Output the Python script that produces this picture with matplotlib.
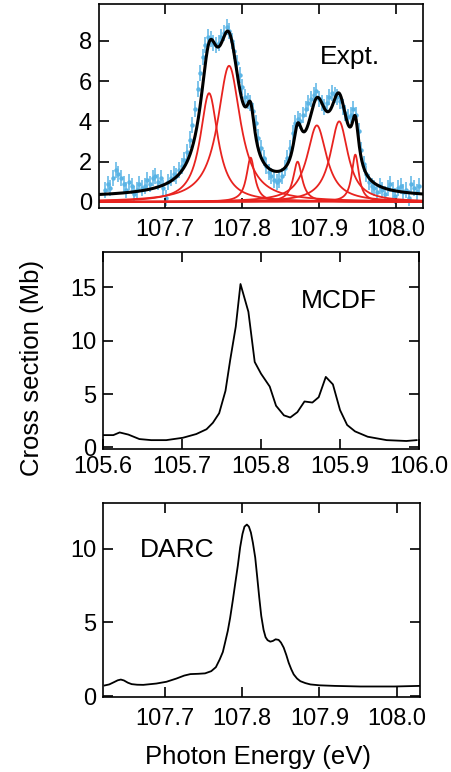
import numpy as np
import matplotlib
matplotlib.use("Agg")
import matplotlib.pyplot as plt

plt.rcParams['font.family'] = ['Liberation Sans', 'DejaVu Sans']

# --- Expt. panel: measured points (photon energy scan) ---
expt_e = np.linspace(107.622, 108.030, 120)
expt_y = [0.6, 0.9, 0.7, 1.2, 1.6, 1.4, 1.2, 0.9, 0.6, 1.0,
          0.8, 0.4, 0.6, 0.9, 0.7, 0.8, 1.1, 0.9, 1.2, 1.3,
          1.0, 1.2, 0.7, 0.2, 1.0, 1.2, 1.4, 1.3, 1.6, 1.8,
          2.1, 2.5, 3.1, 3.8, 4.6, 5.6, 6.4, 7.2, 7.8, 8.2,
          8.1, 7.9, 7.8, 7.9, 8.2, 8.4, 8.7, 8.5, 8.0, 7.5,
          6.9, 6.3, 5.7, 5.2, 5.0, 4.9, 4.5, 3.9, 3.2, 2.7,
          2.2, 1.8, 1.5, 1.3, 1.1, 1.0, 1.1, 1.3, 1.7, 2.2,
          2.7, 3.4, 3.9, 4.1, 4.0, 4.3, 4.6, 4.9, 5.1, 5.3,
          5.5, 5.1, 4.9, 4.7, 4.9, 5.2, 5.4, 5.3, 5.2, 5.0,
          4.7, 4.4, 4.2, 4.3, 4.6, 4.3, 3.5, 2.6, 1.9, 1.4,
          1.0, 0.8, 0.7, 0.5, 0.8, 0.6, 0.4, 0.7, 0.9, 0.6,
          0.3, 0.7, 0.8, 0.5, 0.6, 0.2, 0.9, 0.7, 0.5, 0.8]
expt_err = 0.4

# fitted Lorentzian components
peak_pos = [107.757, 107.783, 107.811, 107.872, 107.897, 107.926, 107.947]
peak_height = [5.4, 6.76, 2.2, 2.0, 3.8, 4.0, 2.35]
peak_hwhm = [0.014, 0.018, 0.0065, 0.007, 0.0155, 0.014, 0.0056]
background = 0.22

# --- MCDF ---
mcdf_e = [105.601, 105.613, 105.621, 105.632, 105.646, 105.661, 105.680,
          105.701, 105.718, 105.731, 105.739, 105.747, 105.755, 105.761,
          105.768, 105.774, 105.784, 105.792, 105.800, 105.811, 105.819,
          105.829, 105.837, 105.846, 105.855, 105.865, 105.873, 105.882,
          105.891, 105.900, 105.909, 105.919, 105.935, 105.959, 105.984,
          105.997]
mcdf_y = [1.15, 1.15, 1.4, 1.2, 0.78, 0.68, 0.68,
          0.9, 1.25, 1.7, 2.3, 3.2, 5.3, 8.2,
          11.3, 15.3, 12.7, 8.0, 6.9, 5.7, 3.9,
          3.0, 2.8, 3.3, 4.3, 4.2, 4.7, 6.6,
          5.9, 3.5, 2.1, 1.5, 1.0, 0.68, 0.6,
          0.68]

# --- DARC ---
darc_e = [107.622, 107.628, 107.634, 107.639, 107.643, 107.647, 107.652,
          107.657, 107.664, 107.672, 107.689, 107.702, 107.715, 107.725,
          107.733, 107.743, 107.752, 107.760, 107.766, 107.771, 107.775,
          107.7779, 107.7814, 107.7844, 107.7879, 107.7909, 107.7944,
          107.7974, 107.8004, 107.8030, 107.8061, 107.8087, 107.8113,
          107.8139, 107.8169, 107.8195, 107.8221, 107.8247, 107.8277,
          107.8303, 107.8329, 107.8364, 107.8398, 107.8433, 107.8472,
          107.8502, 107.8537, 107.8571, 107.8602, 107.8636, 107.8667,
          107.8710, 107.8753, 107.8818, 107.8883, 107.900, 107.920,
          107.953, 107.997, 108.029]
darc_y = [0.73, 0.8, 0.95, 1.08, 1.13, 1.07, 0.92,
          0.82, 0.78, 0.77, 0.86, 0.98, 1.2, 1.4,
          1.5, 1.52, 1.55, 1.7, 1.97, 2.5, 3.0,
          3.64, 4.43, 5.3, 6.5, 7.6, 8.86,
          10.1, 11.0, 11.5, 11.64, 11.5, 11.1,
          10.4, 9.4, 8.07, 6.7, 5.45, 4.5,
          4.0, 3.8, 3.7, 3.75, 3.86, 3.82,
          3.64, 3.3, 2.8, 2.27, 1.82, 1.48,
          1.2, 1.02, 0.89, 0.8, 0.74, 0.7,
          0.66, 0.66, 0.7]

fig = plt.figure(figsize=(4.52, 7.72), dpi=100)
ax1 = fig.add_axes([0.219, 0.7306, 0.717, 0.2642])
ax2 = fig.add_axes([0.228, 0.4184, 0.699, 0.2552])
ax3 = fig.add_axes([0.228, 0.0972, 0.701, 0.2512])

for ax in (ax1, ax2, ax3):
    ax.tick_params(direction='in', top=True, right=True, length=7,
                   width=1.2, labelsize=17, pad=8)
    for s in ax.spines.values():
        s.set_linewidth(1.2)

# Expt.
fine_e = np.linspace(107.614, 108.035, 800)
ax1.errorbar(expt_e, expt_y, yerr=expt_err, fmt='o', ms=2.2, color='#5ab4e5',
             elinewidth=1.1, capsize=0, zorder=1)
total = np.full_like(fine_e, background)
for p, h, w in zip(peak_pos, peak_height, peak_hwhm):
    comp = h * w**2 / ((fine_e - p)**2 + w**2)
    total += comp
    ax1.plot(fine_e, comp, color='#e8231f', lw=1.3, zorder=2)
ax1.plot(fine_e, total, color='black', lw=2.2, zorder=3)
ax1.set_xlim(107.614, 108.035)
ax1.set_ylim(-0.3, 9.83)
ax1.set_xticks([107.7, 107.8, 107.9, 108.0])
ax1.set_xticklabels(['107.7', '107.8', '107.9', '108.0'])
ax1.set_yticks([0, 2, 4, 6, 8])
ax1.tick_params(axis='y', pad=5)
ax1.text(0.775, 0.74, 'Expt.', transform=ax1.transAxes, fontsize=19,
         ha='center', va='center')

# MCDF
ax2.plot(mcdf_e, mcdf_y, color='black', lw=1.3)
ax2.set_xlim(105.6, 106.0)
ax2.set_ylim(-0.15, 18.3)
ax2.set_xticks([105.6, 105.7, 105.8, 105.9, 106.0])
ax2.set_xticklabels(['105.6', '105.7', '105.8', '105.9', '106.0'])
ax2.set_yticks([0, 5, 10, 15])
ax2.tick_params(axis='x', pad=5)
ax2.tick_params(axis='y', pad=5)
for lab in ax2.get_yticklabels():
    lab.set_verticalalignment('center_baseline')
ax2.text(0.745, 0.75, 'MCDF', transform=ax2.transAxes, fontsize=19,
         ha='center', va='center')

# DARC
ax3.plot(darc_e, darc_y, color='black', lw=1.3)
ax3.set_xlim(107.62, 108.03)
ax3.set_ylim(-0.05, 13.1)
ax3.set_xticks([107.7, 107.8, 107.9, 108.0])
ax3.set_xticklabels(['107.7', '107.8', '107.9', '108.0'])
ax3.set_yticks([0, 5, 10])
ax3.tick_params(axis='y', pad=5)
ax3.text(0.235, 0.76, 'DARC', transform=ax3.transAxes, fontsize=19,
         ha='center', va='center')

fig.text(0.071, 0.523, 'Cross section (Mb)', rotation=90, fontsize=18.5,
         ha='center', va='center')
fig.text(0.571, 0.02, 'Photon Energy (eV)', fontsize=18.5,
         ha='center', va='center')

fig.savefig('out.png', dpi=100)
